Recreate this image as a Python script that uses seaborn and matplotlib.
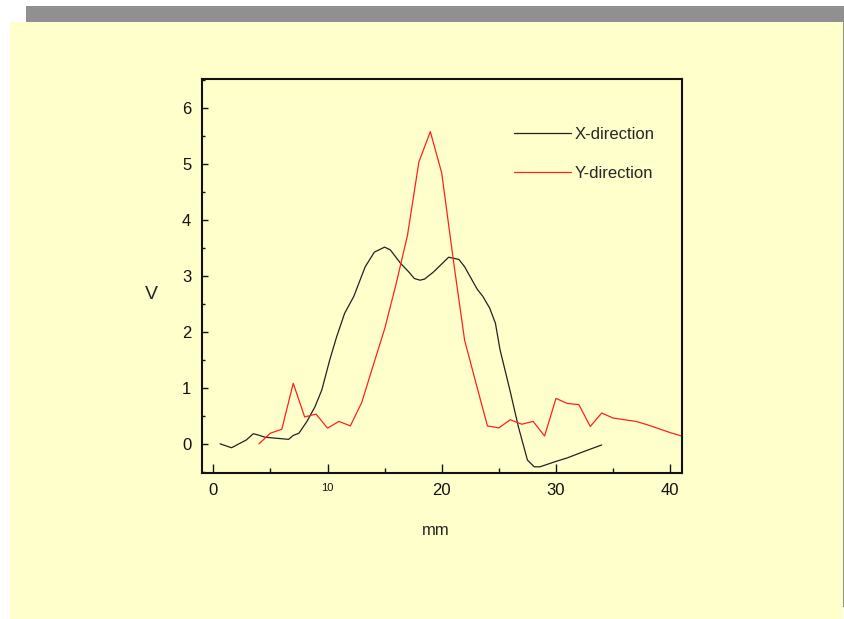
import numpy as np
import pandas as pd
import matplotlib
matplotlib.use("Agg")
import matplotlib.pyplot as plt
import seaborn as sns
from matplotlib.patches import Rectangle
from matplotlib.ticker import MultipleLocator

# X-direction scan (black)
x_dir_mm = [0.6, 1.6, 2.9, 3.5, 3.9, 4.5, 5.5, 6.6, 7.0, 7.5, 8.2, 8.9, 9.5, 10.2,
            10.8, 11.5, 12.3, 13.3, 14.1, 15.0, 15.5, 16.4, 17.1, 17.6, 18.1, 18.5,
            19.3, 20.6, 21.5, 22.0, 23.1, 23.6, 24.2, 24.7, 25.1, 26.0, 26.7, 27.5,
            28.1, 28.6, 29.9, 31.0, 32.4, 34.0]
x_dir_v = [0.0, -0.07, 0.07, 0.18, 0.16, 0.12, 0.10, 0.08, 0.15, 0.19, 0.40, 0.66,
           0.96, 1.50, 1.91, 2.33, 2.63, 3.16, 3.42, 3.51, 3.46, 3.22, 3.07, 2.95,
           2.92, 2.94, 3.07, 3.33, 3.29, 3.16, 2.76, 2.63, 2.42, 2.15, 1.68, 0.93,
           0.31, -0.29, -0.41, -0.41, -0.32, -0.25, -0.14, -0.02]

# Y-direction scan (red)
y_dir_mm = [4, 5, 6, 7, 8, 9, 10, 11, 12, 13, 14, 15, 16, 17, 18, 19, 20, 21, 22,
            23, 24, 25, 26, 27, 28, 29, 30, 31, 32, 33, 34, 35, 36, 37, 38, 39, 40, 41]
y_dir_v = [0.0, 0.19, 0.26, 1.08, 0.48, 0.53, 0.28, 0.40, 0.32, 0.74, 1.40, 2.05,
           2.85, 3.72, 5.03, 5.57, 4.83, 3.30, 1.85, 1.08, 0.32, 0.285, 0.43, 0.35,
           0.40, 0.14, 0.81, 0.72, 0.70, 0.31, 0.55, 0.46, 0.43, 0.40, 0.34, 0.27,
           0.20, 0.14]

x_ticks = [0, 10, 20, 30, 40]
y_ticks = [0, 1, 2, 3, 4, 5, 6]

sns.set_style("ticks")
plt.rcParams['font.family'] = ['Liberation Sans', 'DejaVu Sans']

fig = plt.figure(figsize=(8.45, 6.19), dpi=100)
fig.patch.set_facecolor("white")
# slide background: grey shadow + pale yellow card
fig.patches.append(Rectangle((0.0308, 0.0194), 0.9692, 0.971, transform=fig.transFigure,
                             facecolor="#909090", edgecolor="none", zorder=-2))
fig.patches.append(Rectangle((0.0118, 0.0), 0.9858, 0.9645, transform=fig.transFigure,
                             facecolor="#FFFFCC", edgecolor="none", zorder=-1))

ax = fig.add_axes([0.2394, 0.2359, 0.5673, 0.6365])
ax.set_facecolor("none")

sns.lineplot(x=x_dir_mm, y=x_dir_v, ax=ax, color="#222222", linewidth=0.9,
             estimator=None, sort=False, label="X-direction")
sns.lineplot(x=y_dir_mm, y=y_dir_v, ax=ax, color="#ff2020", linewidth=0.9,
             estimator=None, sort=False, label="Y-direction")

ax.set_xlim(-0.96, 41.0)
ax.set_ylim(-0.52, 6.51)

ax.set_xticks(x_ticks, labels=[str(t) for t in x_ticks])
ax.set_yticks(y_ticks, labels=[str(t) for t in y_ticks])
ax.xaxis.set_minor_locator(MultipleLocator(5))
ax.yaxis.set_minor_locator(MultipleLocator(0.5))
ax.tick_params(axis="both", which="both", direction="in", width=1.0, colors="#111111",
               labelsize=12)
ax.tick_params(axis="x", which="major", length=6.5, pad=7)
ax.tick_params(axis="x", which="minor", length=3.5)
ax.tick_params(axis="y", which="major", length=4.5, pad=8)
ax.tick_params(axis="y", which="minor", length=2.5)
for lbl in ax.get_xticklabels():
    if lbl.get_text() == "10":
        lbl.set_fontsize(8)

for s in ax.spines.values():
    s.set_linewidth(1.5)
    s.set_color("#111111")

ax.set_xlabel("mm", fontsize=12)
ax.xaxis.set_label_coords(0.4875, -0.127)
ax.set_ylabel("V", fontsize=14, rotation=0)
ax.yaxis.set_label_coords(-0.107, 0.431)

ax.legend(loc="upper left", bbox_to_anchor=(0.633, 0.90), frameon=False, fontsize=12,
          handlelength=3.4, handletextpad=0.25, labelspacing=1.45, borderpad=0)

fig.savefig("out.png", dpi=100)
